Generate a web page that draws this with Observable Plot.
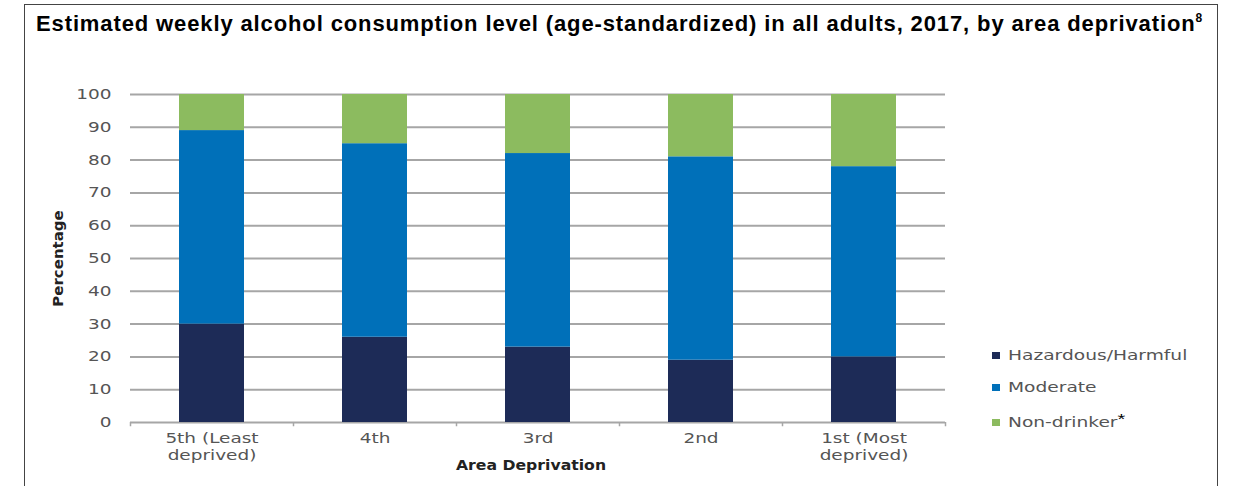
<!DOCTYPE html>
<html>
<head>
<meta charset="utf-8">
<script src="https://cdn.jsdelivr.net/npm/d3@7"></script>
<script src="https://cdn.jsdelivr.net/npm/@observablehq/plot@0.6"></script>
<style>
  html, body { margin: 0; padding: 0; background: #fff; }
  #wrap { position: relative; width: 1234px; height: 486px; overflow: hidden; }
  #frame { position: absolute; left: 24px; top: 4px; width: 1194px; height: 500px;
           border: 1.5px solid #444; border-bottom: none; box-sizing: border-box; }
  #title { position: absolute; left: 36px; top: 11px; font-family: "Liberation Sans", Arial, sans-serif;
           font-weight: bold; font-size: 22px; letter-spacing: 0.88px; color: #000; white-space: nowrap; }
  #title sup { font-size: 12px; vertical-align: 9px; letter-spacing: 0; }
  #chart { position: absolute; left: 0; top: 0; }
  #legend { position: absolute; left: 992px; top: 344px; font-family: "DejaVu Sans", Verdana, sans-serif;
            font-size: 14px; color: #555; }
  #legend .item { height: 32px; line-height: 22px; white-space: nowrap; }
  #legend .sw { display: inline-block; width: 8px; height: 7px; margin-right: 8px; vertical-align: 1px; }
  #legend .lab { display: inline-block; transform: scaleX(1.33); transform-origin: left center; }
  #legend sup { color: #000; font-family: "Liberation Sans", Arial, sans-serif; font-size: 15px; vertical-align: 3px; }
</style>
</head>
<body>
<div id="wrap">
  <div id="frame"></div>
  <div id="title"></div>
  <div id="chart"></div>
  <div id="legend"></div>
</div>
<script>
const titleText = "Estimated weekly alcohol consumption level (age-standardized) in all adults, 2017, by area deprivation";
const titleNote = "8";
const categories = ["5th (Least\ndeprived)", "4th", "3rd", "2nd", "1st (Most\ndeprived)"];
const seriesNames = ["Hazardous/Harmful", "Moderate", "Non-drinker"];
const seriesColors = ["#1d2b57", "#0070b9", "#8cbb5f"];
const hazardous = [30, 26, 23, 19, 20];
const moderate = [59, 59, 59, 62, 58];
const nonDrinker = [11, 15, 18, 19, 22];
const yTicks = [0, 10, 20, 30, 40, 50, 60, 70, 80, 90, 100];
const yLabel = "Percentage";
const xLabel = "Area Deprivation";

document.getElementById("title").innerHTML = titleText + "<sup>" + titleNote + "</sup>";

const seriesValues = [hazardous, moderate, nonDrinker];
const rows = [];
categories.forEach((c, i) => {
  seriesNames.forEach((s, j) => rows.push({category: c, series: s, value: seriesValues[j][i]}));
});

const W = 1234, H = 486;
const mL = 130, mR = 289, mT = 94, mB = 64;
const step = (W - mL - mR) / categories.length;

const chart = Plot.plot({
  width: W, height: H,
  marginLeft: mL, marginRight: mR, marginTop: mT, marginBottom: mB,
  style: { fontFamily: "'DejaVu Sans', Verdana, sans-serif", fontSize: "14px", color: "#555", background: "transparent" },
  x: { domain: categories, paddingInner: 0.6, paddingOuter: 0.3, label: null },
  y: { domain: [0, 100], label: null },
  color: { domain: seriesNames, range: seriesColors },
  marks: [
    Plot.gridY(yTicks, { stroke: "#a6a6a6", strokeWidth: 2, strokeOpacity: 1 }),
    Plot.ruleX(categories, { x: d => d, dx: -step / 2, y1: 0, y2: -1.3, stroke: "#a6a6a6", strokeWidth: 1.5 }),
    Plot.ruleX(categories.slice(-1), { x: d => d, dx: step / 2, y1: 0, y2: -1.3, stroke: "#a6a6a6", strokeWidth: 1.5 }),
    Plot.barY(rows, Plot.stackY({ x: "category", y: "value", fill: "series" })),
    Plot.axisY(yTicks, { tickSize: 0, tickPadding: 19, label: null, fill: "#555", className: "wide-tick" }),
    Plot.axisX({ tickSize: 0, tickPadding: 9, label: null, lineHeight: 1.2, fill: "#555", className: "wide-tick" }),
    Plot.text([yLabel], { frameAnchor: "left", textAnchor: "middle", rotate: -90, dx: -72, fontWeight: "bold", fill: "#222", fontSize: 14, className: "ylab" }),
    Plot.text([xLabel], { frameAnchor: "bottom", dy: 47, dx: -7, fontWeight: "bold", fill: "#222", fontSize: 14, className: "xlab" })
  ]
});
document.getElementById("chart").appendChild(chart);

function stretch(sel, s) {
  d3.select(chart).selectAll(sel).each(function () {
    const t = this.getAttribute("transform") || "";
    this.setAttribute("transform", t + ` scale(${s},1)`);
  });
}
stretch(".wide-tick text", 1.32);
stretch(".xlab text", 1.12);
stretch(".ylab text", 1.07);

const legend = document.getElementById("legend");
seriesNames.forEach((s, i) => {
  const item = document.createElement("div");
  item.className = "item";
  item.innerHTML = `<span class="sw" style="background:${seriesColors[i]}"></span><span class="lab">${s}` + (i === 2 ? "<sup>*</sup>" : "") + "</span>";
  legend.appendChild(item);
});
</script>
</body>
</html>
